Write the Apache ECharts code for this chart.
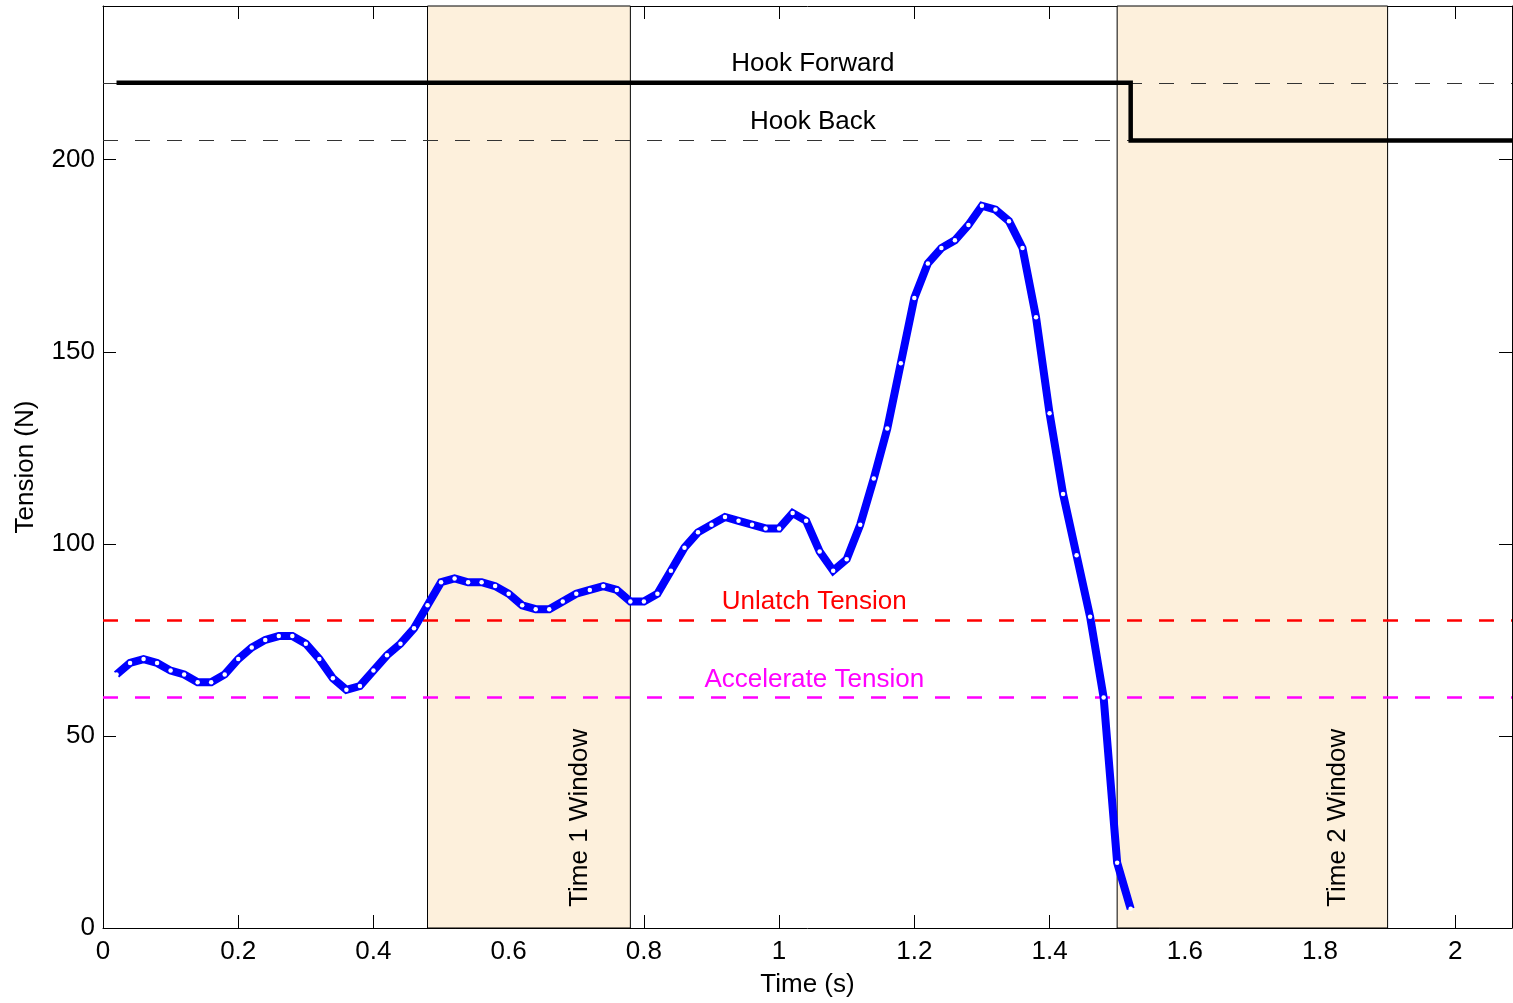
<!DOCTYPE html>
<html>
<head>
<meta charset="utf-8">
<script src="https://cdn.jsdelivr.net/npm/echarts@6/dist/echarts.min.js"></script>
<style>
html,body{margin:0;padding:0;background:#fff;}
#chart{width:1513px;height:1003px;}
</style>
</head>
<body>
<div id="chart"></div>
<script>
// ---- data ----
const times = [0.02,0.04,0.06,0.08,0.10,0.12,0.14,0.16,0.18,0.20,
  0.22,0.24,0.26,0.28,0.30,0.32,0.34,0.36,0.38,0.40,
  0.42,0.44,0.46,0.48,0.50,0.52,0.54,0.56,0.58,0.60,
  0.62,0.64,0.66,0.68,0.70,0.72,0.74,0.76,0.78,0.80,
  0.82,0.84,0.86,0.88,0.90,0.92,0.94,0.96,0.98,1.00,
  1.02,1.04,1.06,1.08,1.10,1.12,1.14,1.16,1.18,1.20,
  1.22,1.24,1.26,1.28,1.30,1.32,1.34,1.36,1.38,1.40,
  1.42,1.44,1.46,1.48,1.50,1.52];
const tension = [66,69,70,69,67,66,64,64,66,70,
  73,75,76,76,74,70,65,62,63,67,
  71,74,78,84,90,91,90,90,89,87,
  84,83,83,85,87,88,89,88,85,85,
  87,93,99,103,105,107,106,105,104,104,
  108,106,98,93,96,105,117,130,147,164,
  173,177,179,183,188,187,184,177,159,134,
  113,97,81,60,17,5];
const hookX = [0.02, 1.52, 1.52, 2.1];
const hookY = [220, 220, 205, 205];
const hookForward = 220;
const hookBack = 205;
const unlatchTension = 80;
const accelerateTension = 60;
const windows = [[0.48, 0.78], [1.50, 1.90]];
const windowLabels = ['Time 1 Window', 'Time 2 Window'];
const windowLabelX = [0.705, 1.826];
const xTicks = {min: 0, max: 2.084, interval: 0.2};
const yTicks = {min: 0, max: 240, interval: 50};

const FONT = 'Liberation Sans, Arial, Helvetica, sans-serif';
const FS = 26;

const chart = echarts.init(document.getElementById('chart'), null, {renderer: 'canvas'});

function axisCommon() {
  return {
    type: 'value',
    axisLine: {show: true, onZero: false, lineStyle: {color: '#000', width: 1}},
    axisTick: {show: true, inside: true, length: 13, lineStyle: {color: '#000', width: 1}},
    splitLine: {show: false},
    axisLabel: {color: '#000', fontSize: FS, fontFamily: FONT, showMaxLabel: false},
    nameTextStyle: {color: '#000', fontSize: FS, fontFamily: FONT}
  };
}

const refLine = (y, color, width, z) => ({
  type: 'line', data: [], silent: true, z: z,
  markLine: {
    silent: true, symbol: 'none', animation: false,
    label: {show: false},
    lineStyle: {color: color, width: width, type: [15, 17]},
    data: [{yAxis: y}]
  }
});

const textSeries = (pts, color, extra) => ({
  type: 'scatter', silent: true, z: 20,
  symbolSize: 1, itemStyle: {color: 'rgba(255,255,255,0)', opacity: 1},
  data: pts.map(p => ({value: [p[0], p[1]], label: Object.assign({
    show: true, formatter: p[2], color: color, fontSize: FS, fontFamily: FONT,
    position: 'inside', textBorderWidth: 0, opacity: 1
  }, extra || {})}))
});

const option = {
  animation: false,
  backgroundColor: '#fff',
  grid: {left: 103, right: 1, top: 6, bottom: 72, containLabel: false},
  xAxis: [
    Object.assign(axisCommon(), {
      min: xTicks.min, max: xTicks.max, interval: xTicks.interval, position: 'bottom',
      name: 'Time (s)', nameLocation: 'middle', nameGap: 44,
      axisLabel: {color: '#000', fontSize: FS, fontFamily: FONT, showMaxLabel: false, margin: 11}
    }),
    Object.assign(axisCommon(), {
      min: xTicks.min, max: xTicks.max, interval: xTicks.interval, position: 'top',
      axisLabel: {show: false}
    })
  ],
  yAxis: [
    Object.assign(axisCommon(), {
      min: yTicks.min, max: yTicks.max, interval: yTicks.interval, position: 'left',
      name: 'Tension (N)', nameLocation: 'middle', nameGap: 64,
      axisLabel: {color: '#000', fontSize: FS, fontFamily: FONT, showMaxLabel: false, margin: 8}
    }),
    Object.assign(axisCommon(), {
      min: yTicks.min, max: yTicks.max, interval: yTicks.interval, position: 'right',
      axisLabel: {show: false}
    })
  ],
  series: [
    {
      type: 'line', data: [], silent: true, z: 1,
      markArea: {
        silent: true,
        itemStyle: {color: '#fdf0dc', borderColor: '#000', borderWidth: 1},
        data: windows.map(w => [{xAxis: w[0]}, {xAxis: w[1]}])
      }
    },
    refLine(hookForward, '#333', 1, 3),
    refLine(hookBack, '#333', 1, 3),
    refLine(unlatchTension, '#ff0000', 2.5, 3),
    refLine(accelerateTension, '#ff00ff', 2.5, 3),
    {
      type: 'line', silent: true, z: 5, symbol: 'none',
      data: hookX.map((x, i) => [x, hookY[i]]),
      lineStyle: {color: '#000', width: 4.5, join: 'miter'}
    },
    {
      type: 'line', silent: true, z: 6,
      data: times.map((t, i) => [t, tension[i]]),
      lineStyle: {color: '#0000ff', width: 8, join: 'miter'},
      symbol: 'circle', symbolSize: 4.5, showSymbol: true, showAllSymbol: true,
      itemStyle: {color: '#ffffff', borderWidth: 0}
    },
    textSeries([[1.05, hookForward, 'Hook Forward'], [1.05, hookBack, 'Hook Back']], '#000', {offset: [0, -19]}),
    textSeries([[1.052, unlatchTension, 'Unlatch Tension']], '#ff0000', {offset: [0, -19]}),
    textSeries([[1.052, accelerateTension, 'Accelerate Tension']], '#ff00ff', {offset: [0, -18]}),
    textSeries(windowLabels.map((s, i) => [windowLabelX[i], 5.5, s]), '#000',
      {rotate: 90, align: 'left', verticalAlign: 'middle', position: 'inside'})
  ]
};
chart.setOption(option);
</script>
</body>
</html>
